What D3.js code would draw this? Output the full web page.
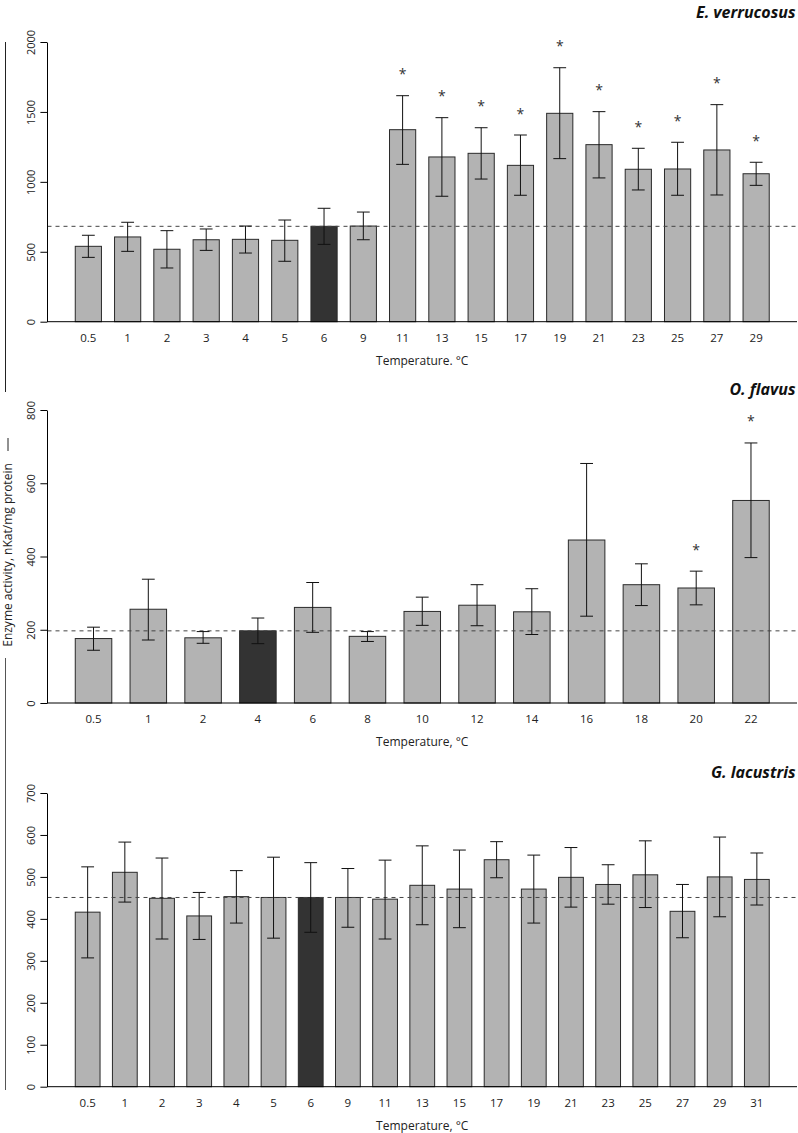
<!DOCTYPE html>
<html>
<head>
<meta charset="utf-8">
<script src="https://cdn.jsdelivr.net/npm/d3@7"></script>
<style>
  html, body { margin: 0; padding: 0; background: #fff; }
  svg { display: block; font-family: "Open Sans", "Noto Sans", sans-serif; }
</style>
</head>
<body>
<svg id="chart" width="798" height="1133"></svg>
<script>
// ---------- data ----------
const evTemps = ["0.5","1","2","3","4","5","6","9","11","13","15","17","19","21","23","25","27","29"];
const evMeans = [539,606,518,586,589,582,682,684,1373,1178,1204,1118,1490,1266,1090,1092,1228,1058];
const evUpper = [618,711,651,663,684,727,811,784,1616,1459,1387,1335,1816,1502,1240,1283,1552,1140];
const evLower = [460,503,384,510,491,432,553,586,1125,897,1020,904,1166,1028,942,904,906,975];
const evSig   = [0,0,0,0,0,0,0,0,1,1,1,1,1,1,1,1,1,1];
const evControl = "6";
const evTicks = [0,500,1000,1500,2000];

const ofTemps = ["0.5","1","2","4","6","8","10","12","14","16","18","20","22"];
const ofMeans = [176,256,178,197,261,182,250,267,249,445,323,314,553];
const ofUpper = [207,338,195,232,329,195,289,323,312,654,380,360,710];
const ofLower = [144,172,163,162,193,168,212,211,187,237,266,268,397];
const ofSig   = [0,0,0,0,0,0,0,0,0,0,0,1,1];
const ofControl = "4";
const ofTicks = [0,200,400,600,800];

const glTemps = ["0.5","1","2","3","4","5","6","9","11","13","15","17","19","21","23","25","27","29","31"];
const glMeans = [416,511,449,407,453,451,451,451,447,480,471,541,471,499,482,505,418,500,494];
const glUpper = [524,583,545,463,515,547,534,520,540,574,564,584,552,570,529,586,482,595,557];
const glLower = [307,440,352,351,390,354,368,380,352,386,379,498,390,428,435,427,355,405,433];
const glSig   = new Array(19).fill(0);
const glControl = "6";
const glTicks = [0,100,200,300,400,500,600,700];

const titles = ["E. verrucosus","O. flavus","G. lacustris"];
const xLabels = ["Temperature. °C","Temperature, °C","Temperature, °C"];
const yLabel = "Enzyme activity, nKat/mg protein";

// ---------- layout ----------
const svg = d3.select("#chart");
const plotLeft = 47.5, plotRight = 797;
const panels = [
  {temps: evTemps, means: evMeans, upper: evUpper, lower: evLower, sig: evSig, control: evControl, ticks: evTicks,
   yBottom: 321.7, yTop: 42, titleY: 17.5, title: titles[0], xlab: xLabels[0]},
  {temps: ofTemps, means: ofMeans, upper: ofUpper, lower: ofLower, sig: ofSig, control: ofControl, ticks: ofTicks,
   yBottom: 703, yTop: 410, titleY: 394.5, title: titles[1], xlab: xLabels[1]},
  {temps: glTemps, means: glMeans, upper: glUpper, lower: glLower, sig: glSig, control: glControl, ticks: glTicks,
   yBottom: 1086.7, yTop: 793, titleY: 777.5, title: titles[2], xlab: xLabels[2]}
];

panels.forEach(p => {
  const n = p.temps.length;
  const po = 0.04 * (1.5 * n - 0.5) / 1.5;
  const x = d3.scaleBand().domain(p.temps).range([plotLeft, plotRight])
    .paddingInner(1/3).paddingOuter(po);
  const y = d3.scaleLinear().domain([0, d3.max(p.ticks)]).range([p.yBottom, p.yTop]);
  const data = p.temps.map((t, i) => ({t, m: p.means[i], u: p.upper[i], l: p.lower[i], s: p.sig[i]}));
  const g = svg.append("g");

  // bars
  g.selectAll("rect.bar").data(data).enter().append("rect")
    .attr("class", "bar")
    .attr("x", d => x(d.t))
    .attr("y", d => y(d.m))
    .attr("width", x.bandwidth())
    .attr("height", d => y(0) - y(d.m))
    .attr("fill", d => d.t === p.control ? "#333333" : "#b3b3b3")
    .attr("stroke", "#2a2a2a")
    .attr("stroke-width", 1);

  // reference dashed line
  const ctrlVal = p.means[p.temps.indexOf(p.control)];
  g.append("line")
    .attr("x1", plotLeft).attr("x2", plotRight)
    .attr("y1", y(ctrlVal)).attr("y2", y(ctrlVal))
    .attr("stroke", "#444").attr("stroke-width", 1)
    .attr("stroke-dasharray", "4,4");

  // error bars
  const cap = 6.4;
  const eb = g.selectAll("g.err").data(data).enter().append("g").attr("class", "err")
    .attr("stroke", "#111").attr("stroke-width", 1);
  eb.append("line")
    .attr("x1", d => x(d.t) + x.bandwidth()/2).attr("x2", d => x(d.t) + x.bandwidth()/2)
    .attr("y1", d => y(d.u)).attr("y2", d => y(d.l));
  eb.append("line")
    .attr("x1", d => x(d.t) + x.bandwidth()/2 - cap).attr("x2", d => x(d.t) + x.bandwidth()/2 + cap)
    .attr("y1", d => y(d.u)).attr("y2", d => y(d.u));
  eb.append("line")
    .attr("x1", d => x(d.t) + x.bandwidth()/2 - cap).attr("x2", d => x(d.t) + x.bandwidth()/2 + cap)
    .attr("y1", d => y(d.l)).attr("y2", d => y(d.l));

  // significance stars
  g.selectAll("text.star").data(data.filter(d => d.s)).enter().append("text")
    .attr("class", "star")
    .attr("x", d => x(d.t) + x.bandwidth()/2)
    .attr("y", d => y(d.u) - 16.5)
    .attr("text-anchor", "middle")
    .attr("font-size", 14)
    .attr("fill", "#333")
    .text("*");

  // baseline across plot
  g.append("line")
    .attr("x1", plotLeft - 0.5).attr("x2", plotRight)
    .attr("y1", y(0)).attr("y2", y(0))
    .attr("stroke", "#000").attr("stroke-width", 1);

  // y axis
  const yAxis = d3.axisLeft(y).tickValues(p.ticks).tickSize(6.6).tickSizeOuter(0).tickFormat(d3.format("d"));
  const ya = g.append("g").attr("transform", `translate(${plotLeft - 0.5},0)`).call(yAxis);
  ya.select(".domain").attr("stroke", "#000");
  ya.selectAll(".tick line").attr("stroke", "#000");
  ya.selectAll(".tick text")
    .attr("transform", "rotate(-90)")
    .attr("x", 0).attr("y", -12.5).attr("dy", 0)
    .attr("text-anchor", "middle")
    .attr("font-size", 11).attr("fill", "#222")
    .attr("font-family", "'Open Sans', sans-serif");

  // x axis labels
  const xAxis = d3.axisBottom(x).tickSize(0).tickPadding(12);
  const xa = g.append("g").attr("transform", `translate(0,${y(0)})`).call(xAxis);
  xa.select(".domain").remove();
  xa.selectAll(".tick text").attr("font-size", 11.5).attr("fill", "#222")
    .attr("font-family", "'Open Sans', sans-serif");

  // x axis title
  g.append("text")
    .attr("x", (plotLeft + plotRight)/2)
    .attr("y", y(0) + 43)
    .attr("text-anchor", "middle")
    .attr("font-size", 12).attr("fill", "#222")
    .text(p.xlab);

  // panel title
  g.append("text")
    .attr("x", 795.5).attr("y", p.titleY)
    .attr("text-anchor", "end")
    .attr("font-size", 16).attr("font-weight", "bold").attr("font-style", "italic")
    .attr("fill", "#111")
    .text(p.title);
});

// shared y label with bracket lines
svg.append("line").attr("x1", 5.5).attr("x2", 5.5).attr("y1", 42).attr("y2", 392)
  .attr("stroke", "#222").attr("stroke-width", 1);
svg.append("line").attr("x1", 8).attr("x2", 8).attr("y1", 438).attr("y2", 451)
  .attr("stroke", "#222").attr("stroke-width", 1);
svg.append("line").attr("x1", 5.5).attr("x2", 5.5).attr("y1", 658).attr("y2", 1090)
  .attr("stroke", "#555").attr("stroke-width", 1);
svg.append("text")
  .attr("transform", "translate(11.5,555) rotate(-90)")
  .attr("text-anchor", "middle")
  .attr("font-size", 12).attr("fill", "#222")
  .text(yLabel);
</script>
</body>
</html>
